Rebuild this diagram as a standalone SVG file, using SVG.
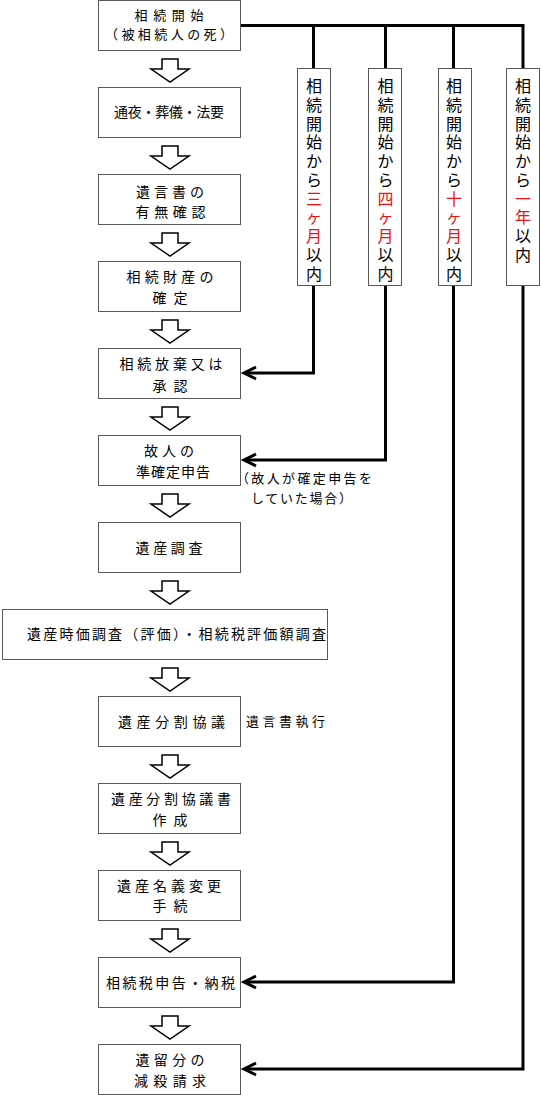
<svg xmlns="http://www.w3.org/2000/svg" width="541" height="1095" viewBox="0 0 541 1095">
<defs>
<style>
.box{fill:#fff;stroke:#595959;stroke-width:1}
.t{font-family:"Noto Sans CJK JP","Noto Sans CJK SC",sans-serif;font-size:14px;fill:#000;text-anchor:middle}
.t13{font-size:13px}
.s{font-family:"Noto Sans CJK JP","Noto Sans CJK SC",sans-serif;font-size:13px;fill:#000}
.v{font-family:"Noto Sans CJK JP","Noto Sans CJK SC",sans-serif;font-size:16px;fill:#000;text-anchor:middle}
.r{fill:#ee1111}
.ha{fill:#fff;stroke:#000;stroke-width:1.5;stroke-linejoin:miter}
.conn{fill:none;stroke:#000;stroke-width:3;stroke-linejoin:miter}
</style>
<marker id="chev" markerUnits="userSpaceOnUse" markerWidth="20" markerHeight="20" viewBox="-16 -10 20 20" refX="0" refY="0" orient="auto">
<path d="M-12,-6 L0,0 L-12,6" fill="none" stroke="#000" stroke-width="3"/>
</marker>
</defs>

<g id="connectors">
<path class="conn" d="M241,25.5 H523 V68"/>
<path class="conn" d="M313.5,25.5 V68"/>
<path class="conn" d="M385.5,25.5 V68"/>
<path class="conn" d="M453.5,25.5 V68"/>
<path class="conn" d="M313.5,286 V373 H244" marker-end="url(#chev)"/>
<path class="conn" d="M385.5,286 V460 H244" marker-end="url(#chev)"/>
<path class="conn" d="M453.5,286 V982 H244" marker-end="url(#chev)"/>
<path class="conn" d="M523,286 V1069 H244" marker-end="url(#chev)"/>
</g>

<g id="flow-arrows">
<polygon class="ha" points="162,59 178,59 178,69 189,69 170,82 151,69 162,69"/>
<polygon class="ha" points="162,146 178,146 178,156 189,156 170,169 151,156 162,156"/>
<polygon class="ha" points="162,233 178,233 178,243 189,243 170,256 151,243 162,243"/>
<polygon class="ha" points="162,320 178,320 178,330 189,330 170,343 151,330 162,330"/>
<polygon class="ha" points="162,407 178,407 178,417 189,417 170,430 151,417 162,417"/>
<polygon class="ha" points="162,494 178,494 178,504 189,504 170,517 151,504 162,504"/>
<polygon class="ha" points="162,581 178,581 178,591 189,591 170,604 151,591 162,591"/>
<polygon class="ha" points="162,668 178,668 178,678 189,678 170,691 151,678 162,678"/>
<polygon class="ha" points="162,755 178,755 178,765 189,765 170,778 151,765 162,765"/>
<polygon class="ha" points="162,842 178,842 178,852 189,852 170,865 151,852 162,852"/>
<polygon class="ha" points="162,929 178,929 178,939 189,939 170,952 151,939 162,939"/>
<polygon class="ha" points="162,1016 178,1016 178,1026 189,1026 170,1039 151,1026 162,1026"/>
</g>

<g id="n1"><rect class="box" x="98.5" y="0.5" width="142" height="50"/>
<text class="t t13" x="169" y="20" textLength="69" lengthAdjust="spacing">相続開始</text>
<text class="t t13" x="169" y="39" textLength="128" lengthAdjust="spacing">（被相続人の死）</text></g>

<g id="n2"><rect class="box" x="98.5" y="87.5" width="142" height="50"/>
<text class="t" x="169" y="116.5" textLength="110" lengthAdjust="spacing">通夜・葬儀・法要</text></g>

<g id="n3"><rect class="box" x="98.5" y="174.5" width="142" height="50"/>
<text class="t" x="170" y="196.5" textLength="68" lengthAdjust="spacing">遺言書の</text>
<text class="t" x="170.5" y="216.5" textLength="70" lengthAdjust="spacing">有無確認</text></g>

<g id="n4"><rect class="box" x="98.5" y="261.5" width="142" height="50"/>
<text class="t" x="170" y="281.5" textLength="87" lengthAdjust="spacing">相続財産の</text>
<text class="t" x="170" y="303" textLength="35" lengthAdjust="spacing">確定</text></g>

<g id="n5"><rect class="box" x="98.5" y="348.5" width="142" height="50"/>
<text class="t" x="171" y="369" textLength="103" lengthAdjust="spacing">相続放棄又は</text>
<text class="t" x="170" y="391" textLength="35" lengthAdjust="spacing">承認</text></g>

<g id="n6"><rect class="box" x="98.5" y="435.5" width="142" height="50"/>
<text class="t" x="169" y="455.5" textLength="50" lengthAdjust="spacing">故人の</text>
<text class="t" x="173" y="477" textLength="74" lengthAdjust="spacing">準確定申告</text></g>

<g id="note6">
<text class="s" x="236" y="483" textLength="136" lengthAdjust="spacing">（故人が確定申告を</text>
<text class="s" x="251" y="503" textLength="101" lengthAdjust="spacing">していた場合）</text></g>

<g id="n7"><rect class="box" x="98.5" y="522.5" width="142" height="50"/>
<text class="t" x="169" y="553" textLength="67" lengthAdjust="spacing">遺産調査</text></g>

<g id="n8"><rect class="box" x="2.5" y="609.5" width="325" height="50"/>
<text class="t" x="176.5" y="638.5" textLength="299" lengthAdjust="spacing">遺産時価調査（評価）・相続税評価額調査</text></g>

<g id="n9"><rect class="box" x="98.5" y="696.5" width="142" height="50"/>
<text class="t" x="171.5" y="727" textLength="107" lengthAdjust="spacing">遺産分割協議</text></g>

<g id="note9"><text class="s" x="246" y="726" textLength="79" lengthAdjust="spacing">遺言書執行</text></g>

<g id="n10"><rect class="box" x="98.5" y="783.5" width="142" height="50"/>
<text class="t" x="171" y="803.5" textLength="120" lengthAdjust="spacing">遺産分割協議書</text>
<text class="t" x="170" y="824.5" textLength="35" lengthAdjust="spacing">作成</text></g>

<g id="n11"><rect class="box" x="98.5" y="870.5" width="142" height="50"/>
<text class="t" x="169" y="890.5" textLength="104" lengthAdjust="spacing">遺産名義変更</text>
<text class="t" x="170" y="911" textLength="35" lengthAdjust="spacing">手続</text></g>

<g id="n12"><rect class="box" x="98.5" y="957.5" width="142" height="50"/>
<text class="t" x="170.5" y="988" textLength="129" lengthAdjust="spacing">相続税申告・納税</text></g>

<g id="n13"><rect class="box" x="98.5" y="1044.5" width="142" height="50"/>
<text class="t" x="170" y="1065" textLength="69" lengthAdjust="spacing">遺留分の</text>
<text class="t" x="170" y="1085.5" textLength="72" lengthAdjust="spacing">減殺請求</text></g>

<g id="v1"><rect class="box" x="297.5" y="68.5" width="33" height="217"/>
<text class="v"><tspan x="314" y="92">相</tspan><tspan x="314" y="110.8">続</tspan><tspan x="314" y="129.5">開</tspan><tspan x="314" y="148.3">始</tspan><tspan x="314" y="167">か</tspan><tspan x="314" y="185.8">ら</tspan><tspan class="r" x="314" y="204.5">三</tspan><tspan class="r" x="314" y="223.3">ヶ</tspan><tspan class="r" x="314" y="242">月</tspan><tspan x="314" y="260.8">以</tspan><tspan x="314" y="279.5">内</tspan></text></g>

<g id="v2"><rect class="box" x="368.5" y="68.5" width="33" height="217"/>
<text class="v"><tspan x="385.5" y="92">相</tspan><tspan x="385.5" y="110.8">続</tspan><tspan x="385.5" y="129.5">開</tspan><tspan x="385.5" y="148.3">始</tspan><tspan x="385.5" y="167">か</tspan><tspan x="385.5" y="185.8">ら</tspan><tspan class="r" x="385.5" y="204.5">四</tspan><tspan class="r" x="385.5" y="223.3">ヶ</tspan><tspan class="r" x="385.5" y="242">月</tspan><tspan x="385.5" y="260.8">以</tspan><tspan x="385.5" y="279.5">内</tspan></text></g>

<g id="v3"><rect class="box" x="438.5" y="68.5" width="33" height="217"/>
<text class="v"><tspan x="454" y="92">相</tspan><tspan x="454" y="110.8">続</tspan><tspan x="454" y="129.5">開</tspan><tspan x="454" y="148.3">始</tspan><tspan x="454" y="167">か</tspan><tspan x="454" y="185.8">ら</tspan><tspan class="r" x="454" y="204.5">十</tspan><tspan class="r" x="454" y="223.3">ヶ</tspan><tspan class="r" x="454" y="242">月</tspan><tspan x="454" y="260.8">以</tspan><tspan x="454" y="279.5">内</tspan></text></g>

<g id="v4"><rect class="box" x="506.5" y="68.5" width="33" height="217"/>
<text class="v"><tspan x="523" y="92">相</tspan><tspan x="523" y="110.8">続</tspan><tspan x="523" y="129.5">開</tspan><tspan x="523" y="148.3">始</tspan><tspan x="523" y="167">か</tspan><tspan x="523" y="185.8">ら</tspan><tspan class="r" x="523" y="204.5">一</tspan><tspan class="r" x="523" y="223.3">年</tspan><tspan x="523" y="242">以</tspan><tspan x="523" y="260.8">内</tspan></text></g>
</svg>
